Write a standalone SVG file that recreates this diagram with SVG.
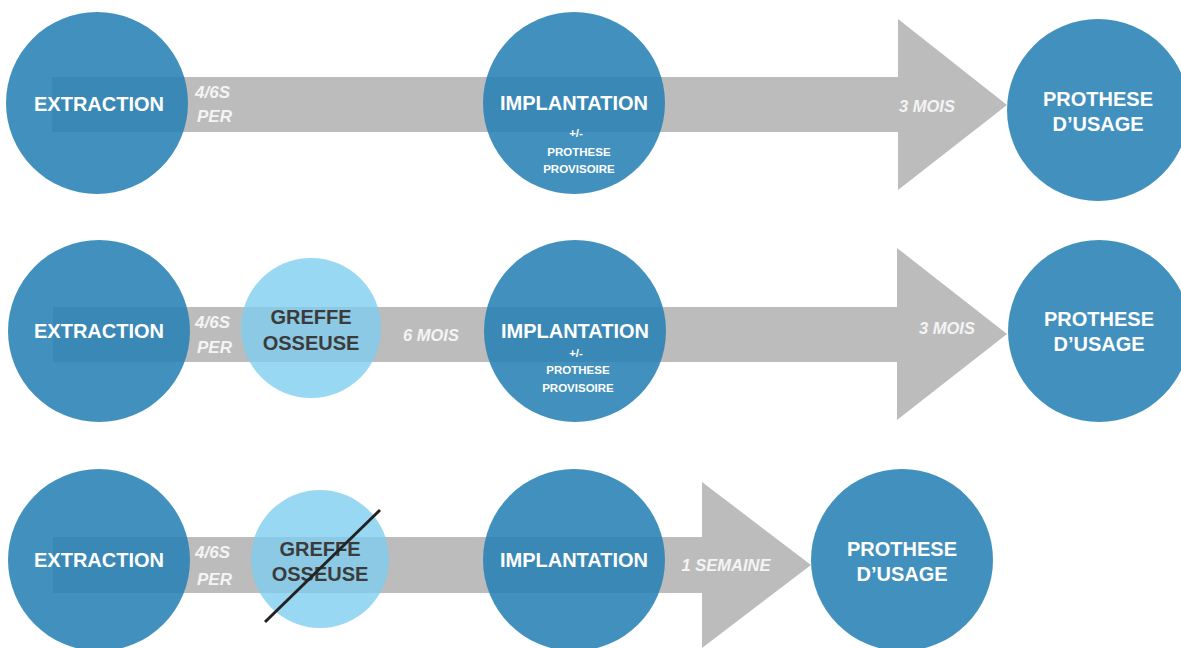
<svg xmlns="http://www.w3.org/2000/svg" width="1181" height="648" viewBox="0 0 1181 648">
<style>
.band{fill:#bdbcbc}
.dk{fill:#2881b4;fill-opacity:0.88}
.lt{fill:#7ccdf0;fill-opacity:0.78}
text{font-family:"Liberation Sans",Arial,Helvetica,sans-serif;font-weight:bold;text-anchor:middle}
.big{font-size:20px;fill:#ffffff}
.grf{font-size:20px;fill:#3b3b3b}
.sub{font-size:11.5px;fill:#ffffff}
.lab{font-size:16.5px;font-style:italic;fill:#f4f4f4}
.lab0{font-size:17px;font-style:italic;fill:#f4f4f4;text-anchor:start}
</style>
<rect width="1181" height="648" fill="#ffffff"/>
<g id="connectors">
<polygon class="band" points="52,77 898,77 898,19 1007,105 898,190 898,132 52,132"/>
<polygon class="band" points="53,307 897,307 897,248 1007,334 897,420 897,362 53,362"/>
<polygon class="band" points="53,537 702,537 702,482 811,565 702,648 702,593 53,593"/>
</g>
<g id="labels-row1">
<text class="lab0" x="195" y="98">4/6S</text>
<text class="lab0" x="197" y="122">PER</text>
<text class="lab" x="927" y="112">3 MOIS</text>
</g>
<g id="labels-row2">
<text class="lab0" x="195" y="328">4/6S</text>
<text class="lab0" x="197" y="353">PER</text>
<text class="lab" x="431" y="341">6 MOIS</text>
<text class="lab" x="947" y="334">3 MOIS</text>
</g>
<g id="labels-row3">
<text class="lab0" x="195" y="558">4/6S</text>
<text class="lab0" x="197" y="585">PER</text>
<text class="lab" x="726" y="571">1 SEMAINE</text>
</g>
<g id="extraction1"><circle class="dk" cx="97" cy="103" r="91"/><text class="big" x="99" y="111">EXTRACTION</text></g>
<g id="implantation1"><circle class="dk" cx="574" cy="103" r="91"/><text class="big" x="574" y="110">IMPLANTATION</text>
<text class="sub" x="576" y="137">+/-</text><text class="sub" x="579" y="156">PROTHESE</text><text class="sub" x="579" y="173">PROVISOIRE</text></g>
<g id="prothese1"><circle class="dk" cx="1098" cy="110" r="91"/><text class="big" x="1098" y="106">PROTHESE</text><text class="big" x="1098" y="131">D’USAGE</text></g>
<g id="extraction2"><circle class="dk" cx="99" cy="331" r="91"/><text class="big" x="99" y="338">EXTRACTION</text></g>
<g id="greffe2"><circle class="lt" cx="311" cy="328" r="70"/><text class="grf" x="311" y="324">GREFFE</text><text class="grf" x="311" y="350">OSSEUSE</text></g>
<g id="implantation2"><circle class="dk" cx="575" cy="331" r="91"/><text class="big" x="575" y="338">IMPLANTATION</text>
<text class="sub" x="576" y="357">+/-</text><text class="sub" x="578" y="374">PROTHESE</text><text class="sub" x="578" y="392">PROVISOIRE</text></g>
<g id="prothese2"><circle class="dk" cx="1099" cy="331" r="91"/><text class="big" x="1099" y="326">PROTHESE</text><text class="big" x="1099" y="351">D’USAGE</text></g>
<g id="extraction3"><circle class="dk" cx="99" cy="560" r="91"/><text class="big" x="99" y="567">EXTRACTION</text></g>
<g id="greffe3"><circle class="lt" cx="320" cy="559" r="69"/><text class="grf" x="320" y="556">GREFFE</text><text class="grf" x="320" y="581">OSSEUSE</text>
<line x1="265" y1="622" x2="380" y2="510" stroke="#222222" stroke-width="3"/></g>
<g id="implantation3"><circle class="dk" cx="574" cy="560" r="91"/><text class="big" x="574" y="567">IMPLANTATION</text></g>
<g id="prothese3"><circle class="dk" cx="902" cy="560" r="91"/><text class="big" x="902" y="556">PROTHESE</text><text class="big" x="902" y="581">D’USAGE</text></g>
</svg>
